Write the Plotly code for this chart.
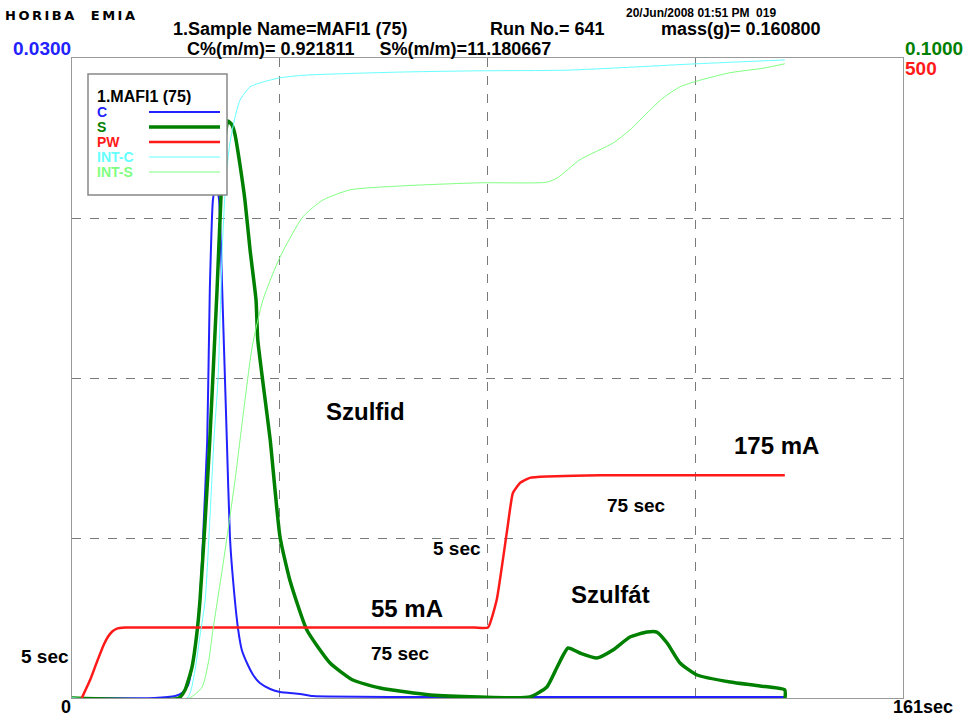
import plotly.graph_objects as go

# ---------------- data ----------------
X_MAX = 161.0
C_MAX = 0.03
S_MAX = 0.1
PW_MAX = 500
INT_MAX = 100

x_tick_labels = ["0", "161sec"]
c_top_label = "0.0300"
s_top_label = "0.1000"
pw_top_label = "500"

# C (left axis)
c_t = [0.0, 15.9, 20.0, 21.3, 22.5, 23.25, 24.2, 24.8, 25.4, 26.2, 26.7, 27.3, 27.9, 28.5, 29.1,
       30.0, 30.6, 31.2, 32.2, 32.9, 33.9, 35.1, 36.4, 38.4, 40.3, 44.2, 46.7, 63.5, 82.9, 138.1]
c_v = [0.0, 0.0, 0.00009, 0.00023, 0.00061, 0.00145, 0.00305, 0.00459, 0.00755, 0.01209, 0.01913,
       0.02334, 0.02419, 0.02334, 0.01913, 0.01209, 0.00755, 0.00553, 0.00319, 0.00225, 0.00164,
       0.00108, 0.00070, 0.00042, 0.00028, 0.00019, 0.00009, 0.00005, 0.00005, 0.00005]

# S (right axis)
s_t = [0.0, 20.7, 21.9, 23.25, 24.2, 24.8, 25.8, 26.7, 28.1, 28.9, 29.6, 30.2, 31.0, 31.6, 32.55,
       33.5, 34.5, 35.65, 36.0, 38.4, 40.3, 42.2, 45.5, 50.0, 54.4, 59.7, 69.4, 79.0, 88.7, 92.0,
       94.0, 96.1, 98.4, 101.7, 104.8, 108.1, 111.4, 113.3, 115.3, 117.8, 121.1, 127.5, 133.3,
       138.1, 138.15]
s_v = [0.0, 0.0, 0.00125, 0.00484, 0.01016, 0.01531, 0.02781, 0.04031, 0.06375, 0.07891, 0.08719,
       0.09016, 0.08953, 0.08797, 0.08328, 0.07781, 0.07000, 0.06219, 0.05594, 0.04031, 0.02516,
       0.01844, 0.01063, 0.00547, 0.00281, 0.00156, 0.00047, 0.00016, 0.00016, 0.00172, 0.00484,
       0.00781, 0.00703, 0.00625, 0.00750, 0.00953, 0.01031, 0.01031, 0.00859, 0.00547, 0.00359,
       0.00250, 0.00188, 0.00125, 0.0]

# PW (furnace power, mA)
pw_t = [1.9, 3.5, 5.0, 6.2, 7.0, 7.8, 8.6, 10.3, 20.0, 40.0, 60.0, 78.0, 80.6, 82.3, 84.3, 85.4,
        86.8, 88.7, 92.0, 102.3, 120.0, 138.1]
pw_v = [0, 14, 30, 42, 48, 52, 54, 55, 55, 55, 55, 55, 55, 77, 131, 160, 168, 172, 173, 174, 174, 174]

# INT-C (integral of C, % of full scale)
intc_t = [0.0, 22.3, 23.6, 24.8, 25.8, 26.7, 27.5, 28.3, 29.1, 29.8, 30.6, 31.6, 32.55, 34.5, 37.0,
          40.3, 44.75, 63.5, 79.0, 95.9, 121.1, 138.1]
intc_v = [0.0, 0.0, 3.3, 9.7, 15.3, 27.8, 40.3, 50.0, 70.0, 80.9, 86.7, 90.8, 93.4, 95.5, 96.25,
          96.9, 97.3, 97.8, 98.0, 98.1, 99.1, 99.7]

# INT-S (integral of S, % of full scale)
ints_t = [0.0, 22.7, 25.2, 26.5, 27.3, 29.3, 31.6, 32.55, 34.9, 37.0, 40.3, 44.75, 48.6, 53.9,
          63.5, 79.0, 92.0, 94.0, 98.4, 104.8, 108.1, 111.4, 114.5, 117.8, 121.1, 127.5, 133.9, 138.1]
ints_v = [0.0, 0.0, 1.7, 5.9, 10.6, 21.1, 34.1, 40.3, 54.8, 62.2, 68.9, 75.2, 77.8, 79.4,
          80.0, 80.5, 80.6, 81.25, 84.1, 86.7, 88.75, 91.4, 93.75, 95.5, 96.4, 97.7, 98.4, 99.1]

legend_title = "1.MAFI1 (75)"
series_names = ["C", "S", "PW", "INT-C", "INT-S"]
series_colors = ["#2222ff", "#008000", "#ff1a1a", "#66ffff", "#80ff80"]
series_widths = [2, 3.5, 2.5, 1, 1]

FONT = "Liberation Sans, Arial, sans-serif"

fig = go.Figure()
fig.add_trace(go.Scatter(x=ints_t, y=ints_v, yaxis="y4", mode="lines", name="INT-S",
                         line=dict(color=series_colors[4], width=series_widths[4], shape="spline", smoothing=0.6)))
fig.add_trace(go.Scatter(x=intc_t, y=intc_v, yaxis="y4", mode="lines", name="INT-C",
                         line=dict(color=series_colors[3], width=series_widths[3], shape="spline", smoothing=0.6)))
fig.add_trace(go.Scatter(x=pw_t, y=pw_v, yaxis="y3", mode="lines", name="PW",
                         line=dict(color=series_colors[2], width=series_widths[2], shape="spline", smoothing=0.4)))
fig.add_trace(go.Scatter(x=c_t, y=c_v, yaxis="y", mode="lines", name="C",
                         line=dict(color=series_colors[0], width=series_widths[0], shape="spline", smoothing=0.5)))
fig.add_trace(go.Scatter(x=s_t, y=s_v, yaxis="y2", mode="lines", name="S",
                         line=dict(color=series_colors[1], width=series_widths[1], shape="spline", smoothing=0.5)))

grid = dict(showgrid=True, gridcolor="#7a7a7a", griddash="dash", gridwidth=1,
            showline=True, linecolor="#999999", linewidth=1, mirror=True,
            zeroline=False, showticklabels=False, ticks="")

fig.update_layout(
    width=965, height=718,
    margin=dict(l=72, r=62, t=58, b=20),
    paper_bgcolor="white", plot_bgcolor="white",
    showlegend=False,
    xaxis=dict(range=[0, X_MAX], tick0=0, dtick=X_MAX / 4, **grid),
    yaxis=dict(range=[0, C_MAX], tick0=0, dtick=C_MAX / 4, **grid),
    yaxis2=dict(range=[0, S_MAX], overlaying="y", side="right", visible=False),
    yaxis3=dict(range=[0, PW_MAX], overlaying="y", side="right", visible=False),
    yaxis4=dict(range=[0, INT_MAX], overlaying="y", side="right", visible=False),
    font=dict(family=FONT, color="black"),
)

ann = []
def A(text, x, y, size, color="black", xanchor="left", yanchor="middle", bold=True, family=FONT):
    t = f"<b>{text}</b>" if bold else text
    ann.append(dict(text=t, x=x, y=y, xref="paper", yref="paper", xanchor=xanchor, yanchor=yanchor,
                    showarrow=False, borderpad=0, font=dict(size=size, color=color, family=family)))

def px(xp):
    return (xp - 72) / 831.0
def py(yp):
    return (698 - yp) / 640.0

# header
A('<span style="letter-spacing:2.5px">HORIBA&nbsp;&nbsp;EMIA</span>', px(4), py(16), 13,
  family="DejaVu Sans, sans-serif")
A("20/Jun/2008 01:51 PM&nbsp;&nbsp;019", px(625), py(13), 12,
  family="Liberation Sans Narrow, Liberation Sans, sans-serif")
A("1.Sample Name=MAFI1 (75)", px(172), py(29), 18)
A("Run No.= 641", px(489), py(29), 18)
A("mass(g)= 0.160800", px(660), py(29), 18)
A("C%(m/m)= 0.921811&nbsp;&nbsp;&nbsp;&nbsp;&nbsp;S%(m/m)=11.180667", px(186), py(49), 18)
A(c_top_label, px(72), py(48), 19, color="#2222ff", xanchor="right")
A(s_top_label, px(904), py(48), 19, color="#008000")
A(pw_top_label, px(904), py(68), 19, color="#ff1a1a")
A(x_tick_labels[0], px(72), py(707), 18, xanchor="right")
A(x_tick_labels[1], px(892), py(707), 18)

# in-plot annotations
A("Szulfid", px(325), py(411), 24)
A("175 mA", px(733), py(445), 24)
A("75 sec", px(606), py(505), 19)
A("5 sec", px(432), py(548), 19)
A("Szulfát", px(570), py(594), 24)
A("55 mA", px(370), py(608), 24)
A("75 sec", px(370), py(653), 19)
A("5 sec", px(20), py(656), 19)

# legend (manual, labels left, line samples right)
shapes = [dict(type="rect", xref="paper", yref="paper", x0=px(88), x1=px(227), y0=py(195), y1=py(74),
               fillcolor="white", line=dict(color="#888888", width=1.5), layer="above")]
A(legend_title, px(96), py(97), 16)
legend_rows = [112, 127, 142, 157, 172]
for name, col, w, yy in zip(series_names, series_colors, series_widths, legend_rows):
    A(name, px(96), py(yy), 14, color=col)
    shapes.append(dict(type="line", xref="paper", yref="paper", x0=px(149), x1=px(220), y0=py(yy), y1=py(yy),
                       line=dict(color=col, width=w), layer="above"))

fig.update_layout(annotations=ann, shapes=shapes)
fig.write_html("out.html", config={"displayModeBar": False},
               post_script="document.body.style.margin='0';")
